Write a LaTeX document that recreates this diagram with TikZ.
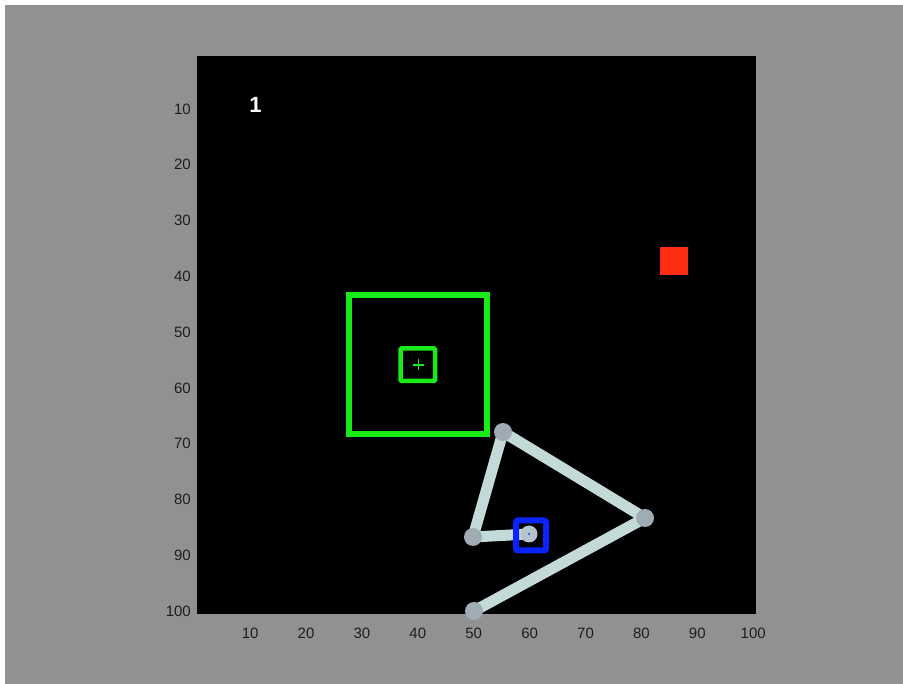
\documentclass[tikz,border=0pt]{standalone}
\usepackage{fontspec}
\setmainfont{Liberation Sans}
\definecolor{bggray}{RGB}{145,145,145}
\definecolor{ticktext}{RGB}{30,30,30}
\definecolor{boxgreen}{RGB}{25,235,25}
\definecolor{markred}{RGB}{255,45,20}
\definecolor{limb}{RGB}{196,218,216}
\definecolor{joint}{RGB}{160,172,180}
\definecolor{markblue}{RGB}{10,35,255}
\begin{document}
\begin{tikzpicture}[x=1pt,y=-1pt,
  ticklab/.style={text=ticktext,font=\fontsize{15}{17}\selectfont,inner sep=0pt},
  limbline/.style={draw=limb,line width=11pt,line cap=round,line join=round},
  jointdot/.style={circle,fill=joint,minimum size=18pt,inner sep=0pt}]
\useasboundingbox (0,0) rectangle (903,684);
\fill[white] (0,0) rectangle (903,684);
\fill[bggray] (5,5) rectangle (903,684);
\fill[black] (197,56) rectangle (756,614);
% tick labels
\foreach \v in {10,20,...,100}{
  \node[ticklab,anchor=east] (y\v) at (191,{56+(\v-0.5)*5.58}) {\v};
  \node[ticklab] (x\v) at ({197+(\v-0.5)*5.59},633) {\v};
}
% frame number
\node[text=white,font=\fontsize{22}{24}\selectfont\bfseries] (frame) at (255.5,105) {1};
% green boxes
\draw[boxgreen,line width=6.5pt] (349,295) rectangle (487,434);
\draw[boxgreen,line width=4.5pt,rounded corners=1pt] (400.5,348.5) rectangle (435,381);
\draw[boxgreen,line width=1.6pt] (413,365) -- (424,365) (418.5,359.5) -- (418.5,370.5);
% red marker
\fill[markred] (660,247) rectangle (688,275);
% skeleton
\coordinate (top) at (503,432);
\coordinate (right) at (645,518);
\coordinate (left) at (473,537);
\coordinate (bottom) at (474,611);
\coordinate (hand) at (529,534);
\draw[limbline] (hand) -- (left) -- (top) -- (right) -- (bottom);
\node[jointdot] (jt) at (top) {};
\node[jointdot] (jr) at (right) {};
\node[jointdot] (jl) at (left) {};
\node[jointdot] (jb) at (bottom) {};
% blue marker
\draw[markblue,line width=6pt,rounded corners=2pt] (516,520.5) rectangle (546,550.5);
\node[circle,fill={rgb,255:red,180;green,196;blue,204},minimum size=17pt,inner sep=0pt] (jh) at (hand) {};
\fill[markblue] (hand) circle (1pt);
\end{tikzpicture}
\end{document}
